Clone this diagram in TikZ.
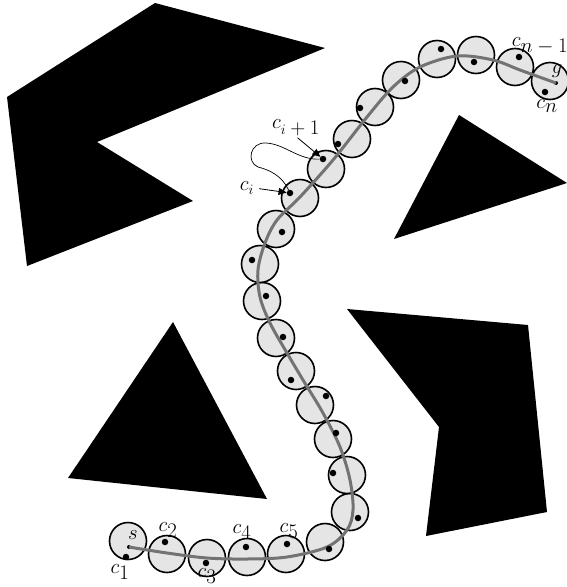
\documentclass[tikz,border=0pt]{standalone}
\usepackage{amsmath}
\usetikzlibrary{arrows.meta}
\newcommand{\bigsub}[1]{_{\textstyle #1}}

\begin{document}
\begin{tikzpicture}[x=1pt, y=-1pt]
\tikzset{
  obst/.style={fill=black},
  disc/.style={circle,draw=black,line width=1.6pt,fill=black!10,minimum size=37pt,inner sep=0pt},
  dotn/.style={circle,fill=black,minimum size=6.5pt,inner sep=0pt},
  endp/.style={circle,fill=black,minimum size=4pt,inner sep=0pt},
  trail/.style={draw=black!55,line width=3pt},
  lab/.style={font=\fontsize{19.5}{21}\selectfont,inner sep=0pt},
  ar/.style={-{Triangle[length=8pt,width=7pt]},line width=0.8pt},
  wig/.style={line width=0.7pt}
}
\useasboundingbox (0,0) rectangle (567,587);
% ---- obstacles
\fill[obst] (7,97) -- (155,3) -- (325,48) -- (97,142) -- (193,201) -- (27,266) -- cycle;
\fill[obst] (459,115) -- (567,183) -- (394,239) -- cycle;
\fill[obst] (173,322) -- (267,499) -- (68,478) -- cycle;
\fill[obst] (347,309) -- (528,325) -- (547,512) -- (426,536) -- (439,427) -- cycle;
% ---- circles of the chain
\node[disc] (c1)  at (128,541) {}; \node[disc] (c2)  at (167,554) {};
\node[disc] (c3)  at (207,558) {}; \node[disc] (c4)  at (247,557) {};
\node[disc] (c5)  at (286,554) {}; \node[disc] (c6)  at (325,542) {};
\node[disc] (c7)  at (350,512) {}; \node[disc] (c8)  at (347,475) {};
\node[disc] (c9)  at (333,439) {}; \node[disc] (c10) at (315,405) {};
\node[disc] (c11) at (296,371) {}; \node[disc] (c12) at (276,338) {};
\node[disc] (c13) at (262,301) {}; \node[disc] (c14) at (260,264) {};
\node[disc] (c15) at (276,229) {}; \node[disc] (c16) at (300,198) {};
\node[disc] (c17) at (326,169) {}; \node[disc] (c18) at (352,139) {};
\node[disc] (c19) at (375,107) {}; \node[disc] (c20) at (401,80) {};
\node[disc] (c21) at (437,59) {};  \node[disc] (c22) at (476,55) {};
\node[disc] (c23) at (515,67) {};  \node[disc] (c24) at (550,81) {};
% ---- start, goal and the path
\node[endp] (s) at (129,547) {};
\node[endp] (g) at (556,83) {};
\draw[trail] plot[smooth,tension=0.55] coordinates {(s.center) (167,553) (207,558) (247,559) (287,557) (327,547) (347,530) (353,510) (350,480) (340,447) (323,413) (303,380) (287,353) (270,323) (260,297) (258,270) (265,243) (277,220) (300,197) (333,160) (367,117) (393,87) (420,67) (457,56) (493,60) (520,70) (g.center)};
% ---- sample points
\node[dotn] (d1)  at (126,557) {}; \node[dotn] (d2)  at (165,542) {};
\node[dotn] (d3)  at (206,563) {}; \node[dotn] (d4)  at (246,547) {};
\node[dotn] (d5)  at (287,544) {}; \node[dotn] (d6)  at (329,549) {};
\node[dotn] (d7)  at (358,518) {}; \node[dotn] (d8)  at (333,473) {};
\node[dotn] (d9)  at (336,433) {}; \node[dotn] (d10) at (326,396) {};
\node[dotn] (d11) at (291,380) {}; \node[dotn] (d12) at (283,337) {};
\node[dotn] (d13) at (266,296) {}; \node[dotn] (d14) at (252,260) {};
\node[dotn] (d15) at (282,232) {}; \node[dotn] (d16) at (290,193) {};
\node[dotn] (d17) at (323,159) {}; \node[dotn] (d18) at (338,144) {};
\node[dotn] (d19) at (360,108) {}; \node[dotn] (d20) at (405,81) {};
\node[dotn] (d21) at (441,49) {};  \node[dotn] (d22) at (474,62) {};
\node[dotn] (d23) at (519,57) {};  \node[dotn] (d24) at (545,92) {};
% ---- labels
\node[lab] (ls)  at (133,535) {$s$};
\node[lab] (lg)  at (557,71)  {$g$};
\node[lab] (l1)  at (120,572) {$c\bigsub{1}$};
\node[lab] (l2)  at (168,530) {$c\bigsub{2}$};
\node[lab] (l3)  at (207,576) {$c\bigsub{3}$};
\node[lab] (l4)  at (242,532) {$c\bigsub{4}$};
\node[lab] (l5)  at (289,531) {$c\bigsub{5}$};
\node[lab] (ln)  at (547,106) {$c\bigsub{n}$};
\node[lab] (lnm) at (540,46)  {$c\bigsub{n-1}$};
\node[lab] (lci) at (247,188) {$c_i$};
\node[lab] (lcj) at (296,128) {$c_{i\textstyle+1}$};
% ---- arrows and the local loop
\draw[ar,shorten <=5pt] (lci.east) -- (d16);
\draw[ar,shorten <=2pt] (lcj.south) -- (d17);
\draw[wig] (d16) .. controls (282,176) and (270,170) .. (258,167) .. controls (246,162) and (250,142) .. (266,143) .. controls (285,144) and (298,160) .. (d17);
\end{tikzpicture}
\end{document}
